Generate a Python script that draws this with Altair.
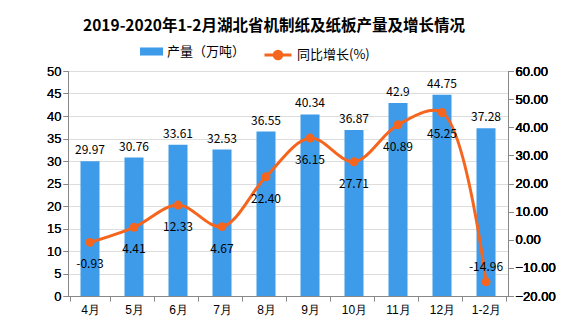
import altair as alt
import pandas as pd

categories = ["4月", "5月", "6月", "7月", "8月", "9月", "10月", "11月", "12月", "1-2月"]
production = [29.97, 30.76, 33.61, 32.53, 36.55, 40.34, 36.87, 42.9, 44.75, 37.28]
growth = [-0.93, 4.41, 12.33, 4.67, 22.40, 36.15, 27.71, 40.89, 45.25, -14.96]
growth_labels = ["-0.93", "4.41", "12.33", "4.67", "22.40", "36.15", "27.71", "40.89", "45.25", "-14.96"]

df = pd.DataFrame({
    "cat": categories,
    "prod": production,
    "growth": growth,
    "glabel": growth_labels,
    "s1": "产量（万吨）",
    "s2": "同比增长(%)",
})

FONT = "Noto Sans CJK SC"
BLUE = "#3e9bea"
ORANGE = "#f5651e"

x = alt.X("cat:N", sort=categories, title=None,
          axis=alt.Axis(labelAngle=0, tickBand="extent", labelFontSize=12, labelPadding=3))

ybar = alt.Y("prod:Q", scale=alt.Scale(domain=[0, 50], nice=False), title=None,
             axis=alt.Axis(values=list(range(0, 51, 5)), orient="left", labelFontSize=13))

bars = alt.Chart(df).mark_bar(size=19).encode(
    x=x,
    y=ybar,
    color=alt.Color("s1:N", scale=alt.Scale(domain=["产量（万吨）"], range=[BLUE]),
                    legend=alt.Legend(title=None, orient="none", legendX=72, legendY=-31,
                                      symbolType="M-1,-0.35L1,-0.35L1,0.35L-1,0.35Z",
                                      symbolSize=529, labelFontSize=13, labelFont=FONT,
                                      symbolStrokeWidth=0)),
)

bar_text = alt.Chart(df).mark_text(baseline="bottom", dy=-4, fontSize=12, font=FONT).encode(
    x=x,
    y=ybar,
    text=alt.Text("prod:Q"),
)

yline = alt.Y("growth:Q", scale=alt.Scale(domain=[-20, 60], nice=False), title=None,
              axis=alt.Axis(values=list(range(-20, 61, 10)), orient="right", format=".2f",
                            labelFontSize=13))

line = alt.Chart(df).mark_line(interpolate="catmull-rom", strokeWidth=3).encode(
    x=x,
    y=yline,
    stroke=alt.Stroke("s2:N", scale=alt.Scale(domain=["同比增长(%)"], range=[ORANGE]),
                      legend=alt.Legend(title=None, orient="none", legendX=195, legendY=-31,
                                        symbolType="M-1,0L1,0M0.28,0A0.28,0.28,0,1,1,-0.28,0A0.28,0.28,0,1,1,0.28,0Z",
                                        symbolSize=729, symbolStrokeWidth=3,
                                        symbolFillColor=ORANGE,
                                        labelFontSize=13, labelFont=FONT)),
)

points = alt.Chart(df).mark_point(filled=True, size=80, color=ORANGE, opacity=1).encode(
    x=x,
    y=yline,
)

line_text_below = alt.Chart(df).transform_filter("datum.growth > -10").mark_text(
    baseline="middle", dy=22, fontSize=12, font=FONT).encode(
    x=x,
    y=yline,
    text="glabel:N",
)

line_text_above = alt.Chart(df).transform_filter("datum.growth <= -10").mark_text(
    baseline="middle", dy=-15, fontSize=12, font=FONT).encode(
    x=x,
    y=yline,
    text="glabel:N",
)

chart = alt.layer(bars, bar_text, line, points, line_text_below, line_text_above).resolve_scale(
    y="independent"
).properties(
    width=440,
    height=225,
    autosize=alt.AutoSizeParams(type="none"),
    padding={"left": 68, "top": 71, "right": 69, "bottom": 31},
    title=alt.TitleParams(
        "2019-2020年1-2月湖北省机制纸及纸板产量及增长情况",
        font=FONT, fontSize=15.5, fontWeight="bold", anchor="middle",
        frame="group", offset=6, dx=-14, color="#000000",
    ),
).configure_view(stroke=None).configure_axis(
    grid=False, domainColor="#888888", tickColor="#888888", labelColor="#000000",
    labelFont=FONT, tickSize=5,
).configure(background="#ffffff")

chart.save("out.html", embed_options={"renderer": "svg", "actions": False})
